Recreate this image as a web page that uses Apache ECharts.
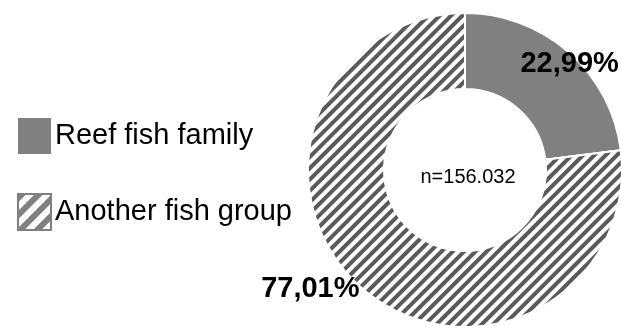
<!DOCTYPE html>
<html>
<head>
<meta charset="utf-8">
<script src="https://cdn.jsdelivr.net/npm/echarts@6/dist/echarts.min.js"></script>
<style>
  html, body { margin: 0; padding: 0; background: #fff; }
  #chart { width: 621px; height: 326px; }
</style>
</head>
<body>
<div id="chart"></div>
<script>
// data
const groups = ["Reef fish family", "Another fish group"];
const shares = [22.99, 77.01];
const sampleLabel = "n=156.032";

// label nudges from the default inside position (dx, dy)
const labelShift = [[24, -14], [-74, 27]];

const font = "'Liberation Sans', Arial, sans-serif";

const stripes = {
  symbol: "rect",
  symbolSize: 1,
  color: "#5a5a5a",
  dashArrayX: [1, 0],
  dashArrayY: [4, 4],
  rotation: -Math.PI / 4
};

let chart = echarts.init(document.getElementById("chart"));
chart.setOption({
  animation: false,
  title: {
    text: sampleLabel,
    left: 463,
    top: 172,
    textAlign: "center",
    textVerticalAlign: "middle",
    textStyle: { fontFamily: font, fontSize: 20, fontWeight: "normal", color: "#000" }
  },
  legend: {
    orient: "vertical",
    left: 12,
    top: 113,
    icon: "rect",
    itemWidth: 33,
    itemHeight: 36,
    itemGap: 39,
    textStyle: { fontFamily: font, fontSize: 29, color: "#000", padding: [0, 0, 0, -1] },
    data: [
      { name: groups[0], itemStyle: { borderWidth: 0 } },
      {
        name: groups[1],
        itemStyle: {
          borderColor: "#808080",
          borderWidth: 2,
          decal: Object.assign({}, stripes, { color: "#808080", dashArrayY: [6, 6] })
        }
      }
    ]
  },
  series: [
    {
      type: "pie",
      center: [465, 170],
      radius: [81, 157],
      startAngle: 90,
      clockwise: true,
      itemStyle: { borderColor: "#fff", borderWidth: 2 },
      label: {
        show: true,
        position: "inside",
        fontFamily: font,
        fontSize: 29,
        fontWeight: "bold",
        color: "#000",
        formatter: p => p.value.toFixed(2).replace(".", ",") + "%"
      },
      labelLayout: p => ({ dx: labelShift[p.dataIndex][0], dy: labelShift[p.dataIndex][1] }),
      emphasis: { disabled: true },
      data: groups.map((g, i) => ({
        name: g,
        value: shares[i],
        itemStyle: i === 0
          ? { color: "#808080" }
          : { color: "#ffffff", decal: stripes }
      }))
    }
  ]
});
</script>
</body>
</html>
